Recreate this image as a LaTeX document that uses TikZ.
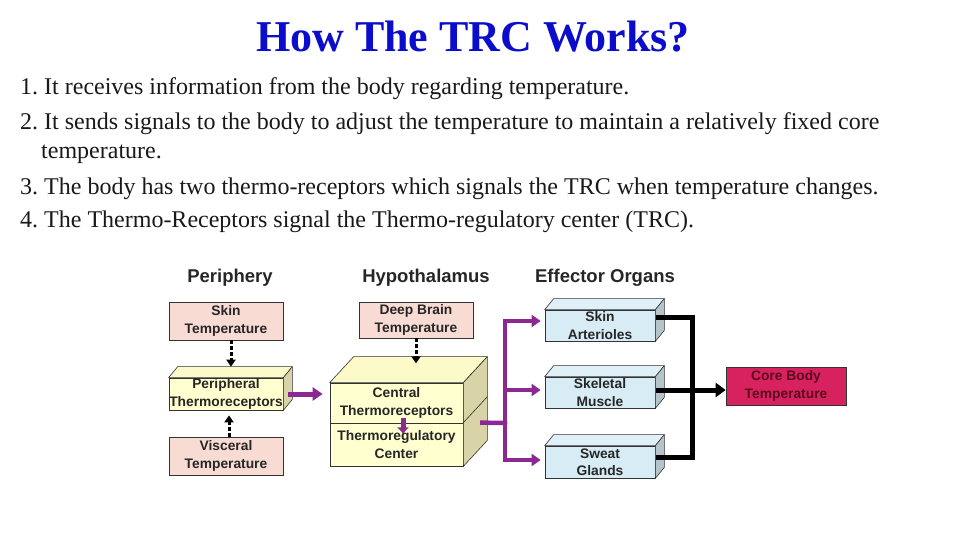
\documentclass[tikz,border=0pt]{standalone}
\usepackage{fontspec}
\setmainfont{Liberation Serif}
\newfontfamily\dsans{Liberation Sans}
\usetikzlibrary{arrows.meta}
\frenchspacing
\definecolor{titleblue}{RGB}{12,12,205}
\definecolor{pinkbox}{RGB}{248,220,212}
\definecolor{yelfront}{RGB}{255,255,208}
\definecolor{yeltop}{RGB}{252,250,200}
\definecolor{yelside}{RGB}{216,212,168}
\definecolor{bluefront}{RGB}{216,236,246}
\definecolor{bluetop}{RGB}{224,240,248}
\definecolor{blueside}{RGB}{180,196,202}
\definecolor{purp}{RGB}{140,40,145}
\definecolor{corered}{RGB}{216,33,95}
\definecolor{coretext}{RGB}{90,12,30}
\newcommand\cubefaces[5]{%
  \filldraw[fill=#4, facedraw] (#1.north west) -- ++(#2,-#3) -- ([shift={(#2,-#3)}]#1.north east) -- (#1.north east) -- cycle;
  \filldraw[fill=#5, facedraw] (#1.north east) -- ++(#2,-#3) -- ([shift={(#2,-#3)}]#1.south east) -- (#1.south east) -- cycle;}
\begin{document}
\begin{tikzpicture}[x=1pt,y=-1pt,
  facedraw/.style={draw=black!80, line width=0.6pt, line join=round},
  box/.style={draw=black!80, line width=0.7pt, inner sep=0pt, align=center,
    font=\dsans\bfseries\fontsize{13.8}{17.5}\selectfont, text=black!85},
  heading/.style={anchor=base, font=\dsans\bfseries\fontsize{18.5}{22}\selectfont, text=black!85},
  bodytext/.style={anchor=base west, font=\fontsize{24}{28}\selectfont, text=black!90, inner sep=0pt},
  dotarrow/.style={draw=black, line width=3pt, dash pattern=on 3.5pt off 2.5pt, -{Triangle[length=7pt,width=9pt]}},
  parrow/.style={draw=purp, line width=5pt, -{Triangle[length=10pt,width=13pt]}},
  pline/.style={draw=purp, line width=4.5pt, line cap=rect},
  pbranch/.style={draw=purp, line width=4.5pt, -{Triangle[length=9pt,width=12pt]}},
  bline/.style={draw=black, line width=5pt, line cap=rect, line join=miter}]
\useasboundingbox (0,0) rectangle (960,540);

% title and text
\node[anchor=base, font=\bfseries\fontsize{44}{50}\selectfont, text=titleblue, inner sep=0pt] (title) at (473,52) {How The TRC Works?};
\node[bodytext] (l1) at (20,95) {1. It receives information from the body regarding temperature.};
\node[bodytext] (l2) at (20,130) {2. It sends signals to the body to adjust the temperature to maintain a relatively fixed core};
\node[bodytext] (l3) at (41,159) {temperature.};
\node[bodytext] (l4) at (20,194) {3. The body has two thermo-receptors which signals the TRC when temperature changes.};
\node[bodytext] (l5) at (20,227) {4. The Thermo-Receptors signal the Thermo-regulatory center (TRC).};

% headings
\node[heading] (h1) at (230,282) {Periphery};
\node[heading] (h2) at (426,282) {Hypothalamus};
\node[heading] (h3) at (605,282) {Effector Organs};

% periphery
\node[box, fill=pinkbox, minimum width=114pt, minimum height=38pt] (skin) at (226,321) {Skin\\Temperature};
\node[box, fill=yelfront, minimum width=114pt, minimum height=32pt] (periph) at (226,394) {Peripheral\\Thermoreceptors};
\cubefaces{periph}{9}{11}{yeltop}{yelside}
\node[box, fill=pinkbox, minimum width=114pt, minimum height=38pt] (visc) at (226,456) {Visceral\\Temperature};

% hypothalamus
\node[box, fill=pinkbox, minimum width=114pt, minimum height=36pt] (deep) at (416,320) {Deep Brain\\Temperature};
\node[box, fill=yelfront, minimum width=133pt, minimum height=40pt] (central) at (396.5,403) {Central\\Thermoreceptors};
\node[box, fill=yelfront, minimum width=133pt, minimum height=43pt] (trc) at (396.5,444.5) {Thermoregulatory\\Center};
\filldraw[fill=yeltop, facedraw] (central.north west) -- ++(24,-26) -- ([shift={(24,-26)}]central.north east) -- (central.north east) -- cycle;
\filldraw[fill=yelside, facedraw] (central.north east) -- ++(24,-26) -- ([shift={(24,-26)}]trc.south east) -- (trc.south east) -- cycle;
\draw[facedraw] (trc.north east) -- ++(24,-26);

% effectors
\node[box, fill=bluefront, minimum width=110pt, minimum height=31pt] (arter) at (600,325.5) {Skin\\Arterioles};
\cubefaces{arter}{9}{11}{bluetop}{blueside}
\node[box, fill=bluefront, minimum width=110pt, minimum height=31pt] (skel) at (600,392.5) {Skeletal\\Muscle};
\cubefaces{skel}{9}{11}{bluetop}{blueside}
\node[box, fill=bluefront, minimum width=110pt, minimum height=32pt] (sweat) at (600,462) {Sweat\\Glands};
\cubefaces{sweat}{9}{11}{bluetop}{blueside}

% core
\node[box, fill=corered, text=coretext, minimum width=120pt, minimum height=38pt] (core) at (786,386) {Core Body\\Temperature};

% dotted arrows
\draw[dotarrow] ([xshift=5pt]skin.south) -- ([shift={(5,-11)}]periph.north);
\draw[dotarrow] ([xshift=3pt]visc.north) -- ([shift={(3,5)}]periph.south);
\draw[dotarrow] (deep.south) -- ++(0,25);

% purple arrows
\draw[parrow] ([xshift=5pt]periph.east) -- ([xshift=-7pt]central.west |- periph.east);
\draw[draw=purp, line width=5pt, -{Triangle[length=6pt,width=11pt]}] ([shift={(6.5,-5)}]central.south) -- ++(0,15);
\coordinate (tk) at (505,423);
\coordinate (tt) at (505,321);
\coordinate (tm) at (505,390);
\coordinate (tb) at (505,460);
\draw[pline] ([xshift=19pt]trc.north east) -- (tk);
\draw[pline] (tt) -- (tb);
\draw[pbranch] (tt) -- ([xshift=-4pt]arter.west |- tt);
\draw[pbranch] (tm) -- ([xshift=-4pt]skel.west |- tm);
\draw[pbranch] (tb) -- ([xshift=-4pt]sweat.west |- tb);

% black connectors
\coordinate (j1) at (692,317);
\coordinate (jm) at (692,390);
\coordinate (j3) at (692,457);
\draw[bline] ([shift={(3,-8.5)}]arter.east) -- (j1) -- (j3) -- ([shift={(3,-5)}]sweat.east);
\draw[bline] ([shift={(3,-2.5)}]skel.east) -- (jm);
\draw[draw=black, line width=5pt, -{Triangle[length=10pt,width=14pt]}] (jm) -- (core.west |- jm);
\end{tikzpicture}
\end{document}
